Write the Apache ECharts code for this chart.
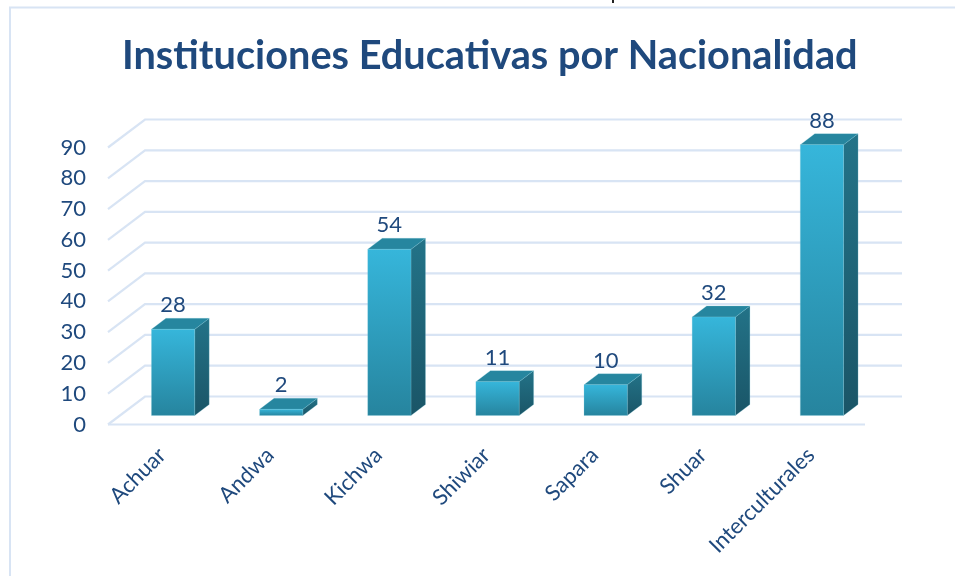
<!DOCTYPE html>
<html><head><meta charset="utf-8">
<style>html,body{margin:0;padding:0;background:#fff}#c{width:955px;height:576px}</style>
<script src="https://cdn.jsdelivr.net/npm/echarts@6/dist/echarts.min.js"></script>
</head><body><div id="c"></div>
<script>
const categories = ['Achuar','Andwa','Kichwa','Shiwiar','Sapara','Shuar','Interculturales'];
const values = [28,2,54,11,10,32,88];
const yTicks = [0,10,20,30,40,50,60,70,80,90];
const titleText = 'Instituciones Educativas por Nacionalidad';
const TEXT = '#1F497D', GRID = '#D8E4F4';
const DX = 37, DY = -28, BX = 14.5, BY = -11, OX = 11, OY = -9;
const chart = echarts.init(document.getElementById('c'));
chart.setOption({
  animation:false,
  backgroundColor:'#fff',
  title:{text:titleText,left:122,top:36,padding:0,itemGap:0,
    textStyle:{fontFamily:'Lato',fontWeight:'bold',fontSize:39.7,color:TEXT}},
  grid:{left:108,right:90,top:147.5,bottom:151.5,containLabel:false},
  graphic:[
    {type:'polyline',silent:true,shape:{points:[[10,576],[10,7.5],[955,7.5]]},style:{fill:'none',stroke:GRID,lineWidth:2}},
    {type:'rect',silent:true,shape:{x:612,y:0,width:2,height:3},style:{fill:'#222'}}
  ],
  xAxis:{type:'category',data:categories,axisLine:{show:false},axisTick:{show:false},
    axisLabel:{rotate:45,interval:0,margin:27,fontFamily:'Lato',fontSize:22,color:TEXT}},
  yAxis:{type:'value',min:0,max:90,interval:10,axisLine:{show:false},axisTick:{show:false},splitLine:{show:false},
    axisLabel:{margin:22,padding:[9,0,0,0],fontFamily:'Lato',fontSize:22,color:TEXT}},
  series:[
    {type:'custom',silent:true,z:1,data:yTicks,encode:{y:0},
     renderItem(p,api){
       const v=api.value(0), band=api.size([1,0])[0];
       const a=api.coord([0,v]), b=api.coord([categories.length-1,v]);
       const l=a[0]-band/2, r=b[0]+band/2, y=a[1];
       const ls={stroke:GRID,lineWidth:2.2,fill:'none'};
       const kids=[{type:'polyline',shape:{points:[[l,y],[l+DX,y+DY],[r+DX,y+DY]]},style:ls}];
       if(v===0) kids.push({type:'line',shape:{x1:l,y1:y,x2:r,y2:y},style:ls});
       return {type:'group',children:kids};
     }},
    {type:'custom',silent:true,z:2,data:values.map((v,i)=>[i,v]),encode:{x:0,y:1},
     renderItem(p,api){
       const i=api.value(0), v=api.value(1), band=api.size([1,0])[0], w=band*0.4;
       const base=api.coord([i,0]), top=api.coord([i,v]);
       const x0=base[0]+OX-w/2, x1=x0+w, yb=base[1]+OY, yt=top[1]+OY;
       const edge='rgba(130,205,222,0.4)';
       const grad=(c0,c1)=>({type:'linear',x:0,y:0,x2:0,y2:1,colorStops:[{offset:0,color:c0},{offset:1,color:c1}]});
       return {type:'group',children:[
         {type:'polygon',shape:{points:[[x1,yb],[x1+BX,yb+BY],[x1+BX,yt+BY],[x1,yt]]},
          style:{fill:grad('#237388','#1A5567'),stroke:edge,lineWidth:0.6}},
         {type:'polygon',shape:{points:[[x0,yt],[x0+BX,yt+BY],[x1+BX,yt+BY],[x1,yt]]},
          style:{fill:'#26869F',stroke:edge,lineWidth:0.6}},
         {type:'rect',shape:{x:x0,y:yt,width:w,height:yb-yt},
          style:{fill:grad('#36B6DB','#26849E'),stroke:edge,lineWidth:0.6}},
         {type:'text',style:{text:String(v),x:x0+w/2,y:yt+BY-13,align:'center',verticalAlign:'middle',
           fontFamily:'Lato',fontSize:22,fill:TEXT}}
       ]};
     }}
  ]
});
</script></body></html>
